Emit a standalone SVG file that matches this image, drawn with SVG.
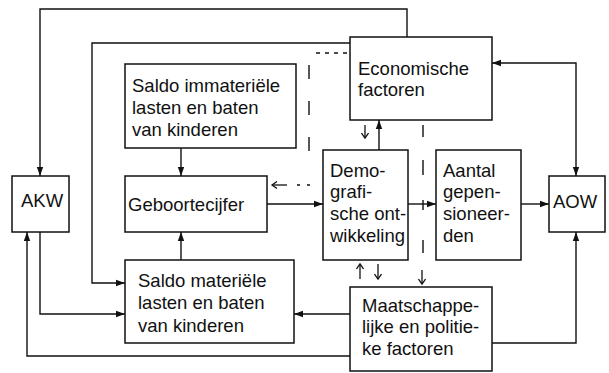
<svg xmlns="http://www.w3.org/2000/svg" width="609" height="373" viewBox="0 0 609 373">
<defs>
<style>
.box{fill:#fff;stroke:#111;stroke-width:1.5}
.t{font-family:"Liberation Sans",Arial,sans-serif;font-size:18.5px;fill:#111}
.c{fill:none;stroke:#111;stroke-width:1.4}
.d{fill:none;stroke:#111;stroke-width:1.4}
.s{fill:none;stroke:#111;stroke-width:1.3}
</style>
<marker id="ah" markerUnits="userSpaceOnUse" markerWidth="10" markerHeight="8" refX="9" refY="4" orient="auto-start-reverse">
<path d="M0,0.8 L9,4 L0,7.2 Z" fill="#111"/>
</marker>
<marker id="oh" markerUnits="userSpaceOnUse" markerWidth="8" markerHeight="8" refX="6" refY="4" orient="auto">
<path d="M1,0.5 L6,4 L1,7.5" fill="none" stroke="#111" stroke-width="1.3"/>
</marker>
</defs>
<rect width="609" height="373" fill="#fff"/>

<g id="connectors">
<path class="c" d="M407,37 V9 H40 V176" marker-end="url(#ah)"/>
<path class="c" d="M350,43 H92 V283 H125" marker-end="url(#ah)"/>
<path class="c" d="M492,63 H576 V176" marker-start="url(#ah)" marker-end="url(#ah)"/>
<path class="c" d="M181,148 V176" marker-end="url(#ah)"/>
<path class="c" d="M181,260 V232" marker-end="url(#ah)"/>
<path class="c" d="M267,204 H323" marker-end="url(#ah)"/>
<path class="c" d="M408,204 H436" marker-end="url(#ah)"/>
<path class="c" d="M521,204 H549" marker-end="url(#ah)"/>
<path class="c" d="M379,150 V120" marker-end="url(#ah)"/>
<path class="c" d="M40,232 V314 H125" marker-end="url(#ah)"/>
<path class="c" d="M350,314 H294" marker-end="url(#ah)"/>
<path class="c" d="M350,356 H27 V232" marker-end="url(#ah)"/>
<path class="c" d="M492,343 H576 V232" marker-end="url(#ah)"/>
<path class="d" d="M347,53 H312" stroke-dasharray="4,5"/>
<path class="d" d="M309,65 V152" stroke-dasharray="14,22"/>
<path class="d" d="M310,185 H296" stroke-dasharray="3,7"/>
<path class="s" d="M287,185 H272" marker-end="url(#oh)"/>
<path class="d" d="M423,125 V253" stroke-dasharray="12,23,15,25,10,30,13"/>
<path class="s" d="M422,270 V284" marker-end="url(#oh)"/>
<path class="s" d="M365,125 V138" marker-end="url(#oh)"/>
<path class="s" d="M360,279 V264" marker-end="url(#oh)"/>
<path class="s" d="M378,264 V279" marker-end="url(#oh)"/>
</g>

<g id="akw">
<rect class="box" x="12" y="176" width="57" height="56"/>
<text class="t" x="21" y="207">AKW</text>
</g>
<g id="saldo-immaterieel">
<rect class="box" x="125" y="64" width="171" height="84"/>
<text class="t" x="132" y="92">Saldo immateriële</text>
<text class="t" x="132" y="114">lasten en baten</text>
<text class="t" x="132" y="136">van kinderen</text>
</g>
<g id="geboortecijfer">
<rect class="box" x="125" y="176" width="142" height="56"/>
<text class="t" x="128" y="211">Geboortecijfer</text>
</g>
<g id="saldo-materieel">
<rect class="box" x="125" y="260" width="169" height="83"/>
<text class="t" x="138" y="287">Saldo materiële</text>
<text class="t" x="138" y="309">lasten en baten</text>
<text class="t" x="138" y="332">van kinderen</text>
</g>
<g id="economische">
<rect class="box" x="350" y="37" width="142" height="83"/>
<text class="t" x="358" y="75">Economische</text>
<text class="t" x="358" y="96">factoren</text>
</g>
<g id="demografische">
<rect class="box" x="323" y="150" width="85" height="110"/>
<text class="t" x="330" y="177">Demo-</text>
<text class="t" x="330" y="198">grafi-</text>
<text class="t" x="330" y="220">sche ont-</text>
<text class="t" x="330" y="242">wikkeling</text>
</g>
<g id="aantal">
<rect class="box" x="436" y="150" width="85" height="110"/>
<text class="t" x="443" y="177">Aantal</text>
<text class="t" x="443" y="198">gepen-</text>
<text class="t" x="443" y="220">sioneer-</text>
<text class="t" x="443" y="242">den</text>
</g>
<g id="aow">
<rect class="box" x="549" y="176" width="56" height="56"/>
<text class="t" x="553" y="208">AOW</text>
</g>
<g id="maatschappelijke">
<rect class="box" x="350" y="287" width="142" height="84"/>
<text class="t" x="362" y="312">Maatschappe-</text>
<text class="t" x="362" y="333">lijke en politie-</text>
<text class="t" x="362" y="355">ke factoren</text>
</g>
</svg>
